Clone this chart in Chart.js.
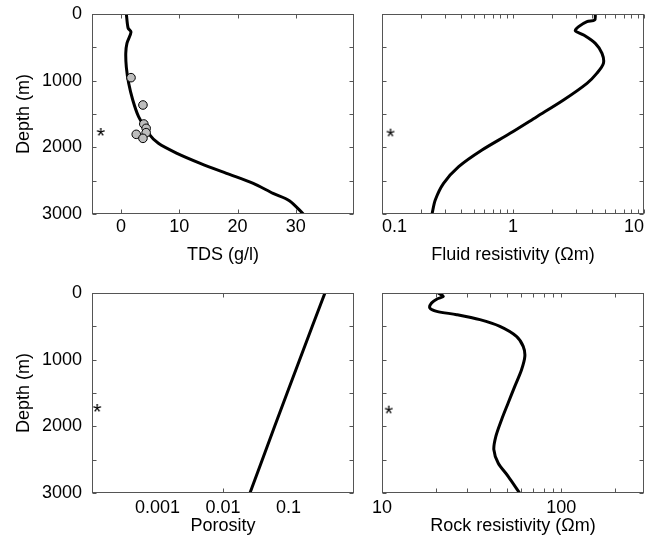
<!DOCTYPE html>
<html>
<head>
<meta charset="utf-8">
<script src="https://cdn.jsdelivr.net/npm/chart.js@4/dist/chart.umd.min.js"></script>
<style>
  html, body { margin: 0; padding: 0; background: #fff; }
  #wrap { position: relative; width: 667px; height: 542px; overflow: hidden; }
  #wrap canvas { position: absolute; }
</style>
</head>
<body>
<div id="wrap">
  <canvas id="tds" width="365" height="271" style="left:0;top:0"></canvas>
  <canvas id="fluid" width="302" height="271" style="left:365px;top:0"></canvas>
  <canvas id="poro" width="365" height="271" style="left:0;top:271px"></canvas>
  <canvas id="rock" width="302" height="271" style="left:365px;top:271px"></canvas>
</div>
<script>
// depth axis (m)
const depthTicks = [0, 500, 1000, 1500, 2000, 2500, 3000];
const depthLabels = [0, 1000, 2000, 3000];

// TDS (g/l) profile and samples
const tdsDepth = [0, 210, 270, 440, 590, 800, 1040, 1290, 1540, 1790, 1940, 2090, 2240, 2390, 2540, 2690, 2800, 3000];
const tdsValue = [0.9, 1.2, 1.7, 1.0, 0.8, 0.9, 1.3, 2.0, 3.0, 4.7, 6.4, 9.6, 13.6, 18.1, 22.7, 26.1, 28.9, 31.3];
const sampleDepth = [955, 1365, 1650, 1715, 1780, 1805, 1865];
const sampleTds = [1.7, 3.75, 3.9, 4.3, 4.3, 2.6, 3.75];
const tdsTicks = [0, 10, 20, 30];

// fluid resistivity (ohm m)
const fluidDepth = [0, 90, 115, 190, 250, 315, 440, 590, 740, 890, 1040, 1290, 1540, 1790, 2040, 2290, 2540, 2790, 3000];
const fluidRes = [4.25, 4.2, 3.67, 3.17, 2.99, 3.46, 4.25, 4.78, 4.9, 4.36, 3.67, 2.43, 1.52, 0.95, 0.58, 0.385, 0.295, 0.255, 0.241];
const fluidTicks = [0.1, 0.2, 0.3, 0.4, 0.5, 0.6, 0.7, 0.8, 0.9, 1, 2, 3, 4, 5, 6, 7, 8, 9, 10];
const fluidLabels = [0.1, 1, 10];

// porosity
const porDepth = [0, 1000, 2000, 3000];
const porosity = [0.36, 0.148, 0.0615, 0.0258];
const poroTicks = [0.01];
const poroLabels = [0.001, 0.01, 0.1];

// rock resistivity (ohm m)
const rockDepth = [0, 50, 90, 150, 225, 275, 325, 400, 500, 650, 800, 950, 1150, 1400, 1650, 1900, 2150, 2350, 2550, 2750, 2990];
const rockRes = [20.6, 22.0, 20.3, 18.9, 18.5, 20.2, 26.1, 35.2, 45.5, 56.3, 61.4, 62.7, 60.1, 55.1, 50.6, 46.5, 43.2, 42.1, 44.5, 50.6, 58.3];
const rockTicks = [10, 20, 30, 40, 50, 60, 70, 80, 90, 100, 200];
const rockLabels = [10, 100];

// asterisk marker, one per panel: tds, fluid, porosity, rock
const markerX = [-3.5, 0.116, 0.00012, 10.9];
const markerDepth = [1770, 1780, 1725, 1750];

const FONT = "'Liberation Sans', Arial, Helvetica, sans-serif";
Chart.defaults.font.family = FONT;
Chart.defaults.font.size = 18;
Chart.defaults.color = '#000';

const pts = (xs, ys) => xs.map((x, i) => ({ x, y: ys[i] }));

function starImage() {
  const c = document.createElement('canvas');
  c.width = 16; c.height = 16;
  const g = c.getContext('2d');
  g.font = '22px ' + FONT;
  g.fillStyle = '#000';
  g.textAlign = 'center';
  g.textBaseline = 'alphabetic';
  const m = g.measureText('*');
  g.fillText('*', 8, 8 + (m.actualBoundingBoxAscent - m.actualBoundingBoxDescent) / 2);
  return c;
}
const star = starImage();

// box round the plot with short inward ticks on all four sides
const framePlugin = {
  id: 'frame',
  afterDatasetsDraw(chart, args, opts) {
    const { ctx, chartArea: a, scales } = chart;
    const L = Math.round(a.left) + 0.5, R = Math.round(a.right) - 0.5;
    const T = Math.round(a.top) + 0.5, B = Math.round(a.bottom) - 0.5;
    ctx.save();
    ctx.strokeStyle = '#555';
    ctx.lineWidth = 1;
    ctx.strokeRect(L, T, R - L, B - T);
    ctx.beginPath();
    (opts.xTicks || []).forEach(v => {
      const x = Math.round(scales.x.getPixelForValue(v)) + 0.5;
      ctx.moveTo(x, B); ctx.lineTo(x, B - 4);
      ctx.moveTo(x, T); ctx.lineTo(x, T + 4);
    });
    (opts.yTicks || []).forEach(v => {
      const y = Math.round(scales.y.getPixelForValue(v)) + 0.5;
      ctx.moveTo(L, y); ctx.lineTo(L + 4, y);
      ctx.moveTo(R, y); ctx.lineTo(R - 4, y);
    });
    ctx.stroke();
    ctx.restore();
  }
};

const profile = (xs, ys) => ({
  data: pts(xs, ys), showLine: true, borderColor: '#000', borderWidth: 3,
  pointRadius: 0, tension: 0.3, borderJoinStyle: 'round', borderCapStyle: 'round'
});
const marker = i => ({ data: [{ x: markerX[i], y: markerDepth[i] }], pointStyle: star, pointRadius: 7, showLine: false });

function panel(id, o) {
  return new Chart(document.getElementById(id), {
    type: 'scatter',
    data: { datasets: o.datasets },
    options: {
      responsive: false,
      animation: false,
      events: [],
      layout: { padding: o.padding },
      plugins: {
        legend: { display: false },
        tooltip: { enabled: false },
        frame: { xTicks: o.xMarks, yTicks: depthTicks }
      },
      scales: {
        x: {
          type: o.xType, min: o.xMin, max: o.xMax,
          grid: { display: false, drawTicks: false }, border: { display: false },
          afterBuildTicks: s => { s.ticks = o.xLabels.map(v => ({ value: v })); },
          afterFit: s => { s.height = o.xHeight; s.paddingLeft = 0; s.paddingRight = 0; },
          ticks: { padding: o.xPad, align: o.xAlign || 'center', autoSkip: false, maxRotation: 0, callback: v => String(v) },
          title: { display: true, text: o.xTitle, padding: { top: 0, bottom: 5 } }
        },
        y: {
          type: 'linear', reverse: true, min: 0, max: 3000,
          grid: { display: false, drawTicks: false }, border: { display: false },
          afterBuildTicks: s => { s.ticks = depthLabels.map(v => ({ value: v })); },
          // keep the labels from pushing the plot box down
          afterFit: s => { s.width = o.yWidth; s.paddingTop = 0; s.paddingBottom = 0; },
          ticks: { display: o.yText, padding: 10, callback: v => String(v) },
          title: { display: o.yText, text: 'Depth (m)', padding: { top: 13, bottom: 0 } }
        }
      }
    },
    plugins: [framePlugin]
  });
}

panel('tds', {
  datasets: [
    { data: pts(sampleTds, sampleDepth), pointRadius: 4.3, pointBackgroundColor: '#bdbdbd',
      pointBorderColor: '#000', pointBorderWidth: 1, showLine: false },
    profile(tdsValue, tdsDepth),
    marker(0)
  ],
  padding: { left: 0, top: 14, right: 11, bottom: 0 },
  xType: 'linear', xMin: -5, xMax: 40, xLabels: tdsTicks, xMarks: tdsTicks,
  xHeight: 57, xPad: 2, xTitle: 'TDS (g/l)', yWidth: 92, yText: true
});

panel('fluid', {
  datasets: [profile(fluidRes, fluidDepth), marker(1)],
  padding: { left: 17, top: 14, right: 23, bottom: 0 },
  xType: 'logarithmic', xMin: 0.1, xMax: 10, xLabels: fluidLabels, xMarks: fluidTicks, xAlign: 'inner',
  xHeight: 57, xPad: 2, xTitle: 'Fluid resistivity (Ωm)', yWidth: 0, yText: false
});

panel('poro', {
  datasets: [profile(porosity, porDepth), marker(2)],
  padding: { left: 0, top: 22, right: 11, bottom: 0 },
  xType: 'logarithmic', xMin: 0.0001, xMax: 1, xLabels: poroLabels, xMarks: poroTicks,
  xHeight: 49, xPad: 4, xTitle: 'Porosity', yWidth: 92, yText: true
});

panel('rock', {
  datasets: [profile(rockRes, rockDepth), marker(3)],
  padding: { left: 17, top: 22, right: 23, bottom: 0 },
  xType: 'logarithmic', xMin: 10, xMax: 290, xLabels: rockLabels, xMarks: rockTicks,
  xHeight: 49, xPad: 4, xTitle: 'Rock resistivity (Ωm)', yWidth: 0, yText: false
});
</script>
</body>
</html>
